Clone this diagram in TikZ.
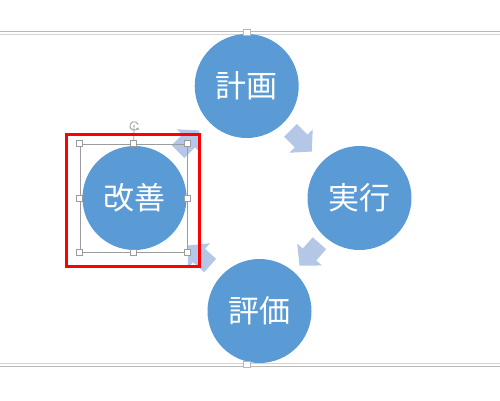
\documentclass[tikz,border=0pt]{standalone}
\usepackage{fontspec}
\newfontfamily\cjk{Noto Sans CJK JP}
\usetikzlibrary{calc,arrows.meta}
\definecolor{cblue}{HTML}{5B9BD5}
\definecolor{alight}{HTML}{B4C7E7}
\definecolor{seldark}{HTML}{9C9C9C}
\definecolor{lineA}{HTML}{B8B8B8}
\definecolor{lineB}{HTML}{D4D4D4}
\tikzset{
  stage/.style={circle, fill=cblue, minimum size=104pt, inner sep=0pt,
    text=white, font=\cjk\fontsize{31pt}{31pt}\selectfont},
  cyclearrow/.style={fill=alight, draw=none},
  handle/.style={rectangle, draw=seldark, fill=white, line width=0.8pt,
    minimum size=6pt, inner sep=0pt},
  edgehandle/.style={rectangle, draw=lineA, fill=white, line width=0.8pt,
    minimum width=7pt, minimum height=6pt, inner sep=0pt},
}
\newcommand{\blockarrow}[2]{%
  \fill[cyclearrow, shift={(#1)}, rotate=#2]
    (-15,-9) -- (0,-9) -- (0,-16.5) -- (15,0) -- (0,16.5) -- (0,9) -- (-15,9) -- cycle;}
\begin{document}
\begin{tikzpicture}[x=1pt,y=-1pt]
\useasboundingbox (0,0) rectangle (500,400);
% frame lines
\coordinate (tl1) at (0,31.7);   \coordinate (tr1) at (500,31.7);
\coordinate (tl2) at (0,34.3);   \coordinate (tr2) at (500,34.3);
\coordinate (bl1) at (0,363.3);  \coordinate (br1) at (500,363.3);
\coordinate (bl2) at (0,366.3);  \coordinate (br2) at (500,366.3);
\draw[lineA, line width=1pt] (tl1) -- (tr1);
\draw[lineB, line width=1pt] (tl2) -- (tr2);
\draw[lineB, line width=1pt] (bl1) -- (br1);
\draw[lineA, line width=1pt] (bl2) -- (br2);
% stages
\node[stage] (plan) at (246.7,86) {計画};
\node[stage] (exec) at (359.5,198) {実行};
\node[stage] (eval) at (259.5,311) {評価};
\node[stage] (impr) at (134.5,198) {改善};
% cycle arrows
\coordinate (a1) at ($(plan)!0.5!(exec)+(-2,-1)$);
\coordinate (a2) at ($(exec)!0.5!(eval)$);
\coordinate (a3) at ($(eval)!0.5!(impr)+(2,1)$);
\coordinate (a4) at ($(impr)!0.5!(plan)+(-2,-1)$);
\blockarrow{a1}{-44.8}
\blockarrow{a2}{-131.5}
\blockarrow{a3}{137.9}
\blockarrow{a4}{44.9}
% frame handles
\node[edgehandle] (ht) at (247,32.5) {};
\node[edgehandle] (hb) at (247,364.7) {};
% selection box
\node[draw=seldark, line width=0.8pt, minimum width=107pt, minimum height=108pt,
  inner sep=0pt] (sel) at (133.7,198) {};
\node[draw=seldark, circle, minimum size=1pt, inner sep=0pt] (rotc) at (134,126) {};
\draw[seldark, line width=0.8pt] (rotc) -- (sel.north);
\draw[seldark, line width=0.9pt, -{Stealth[length=2.2pt,width=3pt]}]
  ($(rotc)+(4.2,-1.5)$) arc[start angle=-20, end angle=-340, radius=4.3];
\foreach \a/\n in {north west/s1, north/s2, north east/s3, west/s4,
                   east/s5, south west/s6, south/s7, south east/s8}
  \node[handle] (\n) at (sel.\a) {};
% red highlight
\node[draw=red, line width=3pt, minimum width=133pt, minimum height=132pt,
  inner sep=0pt] (hl) at (133.3,200) {};
\end{tikzpicture}
\end{document}
